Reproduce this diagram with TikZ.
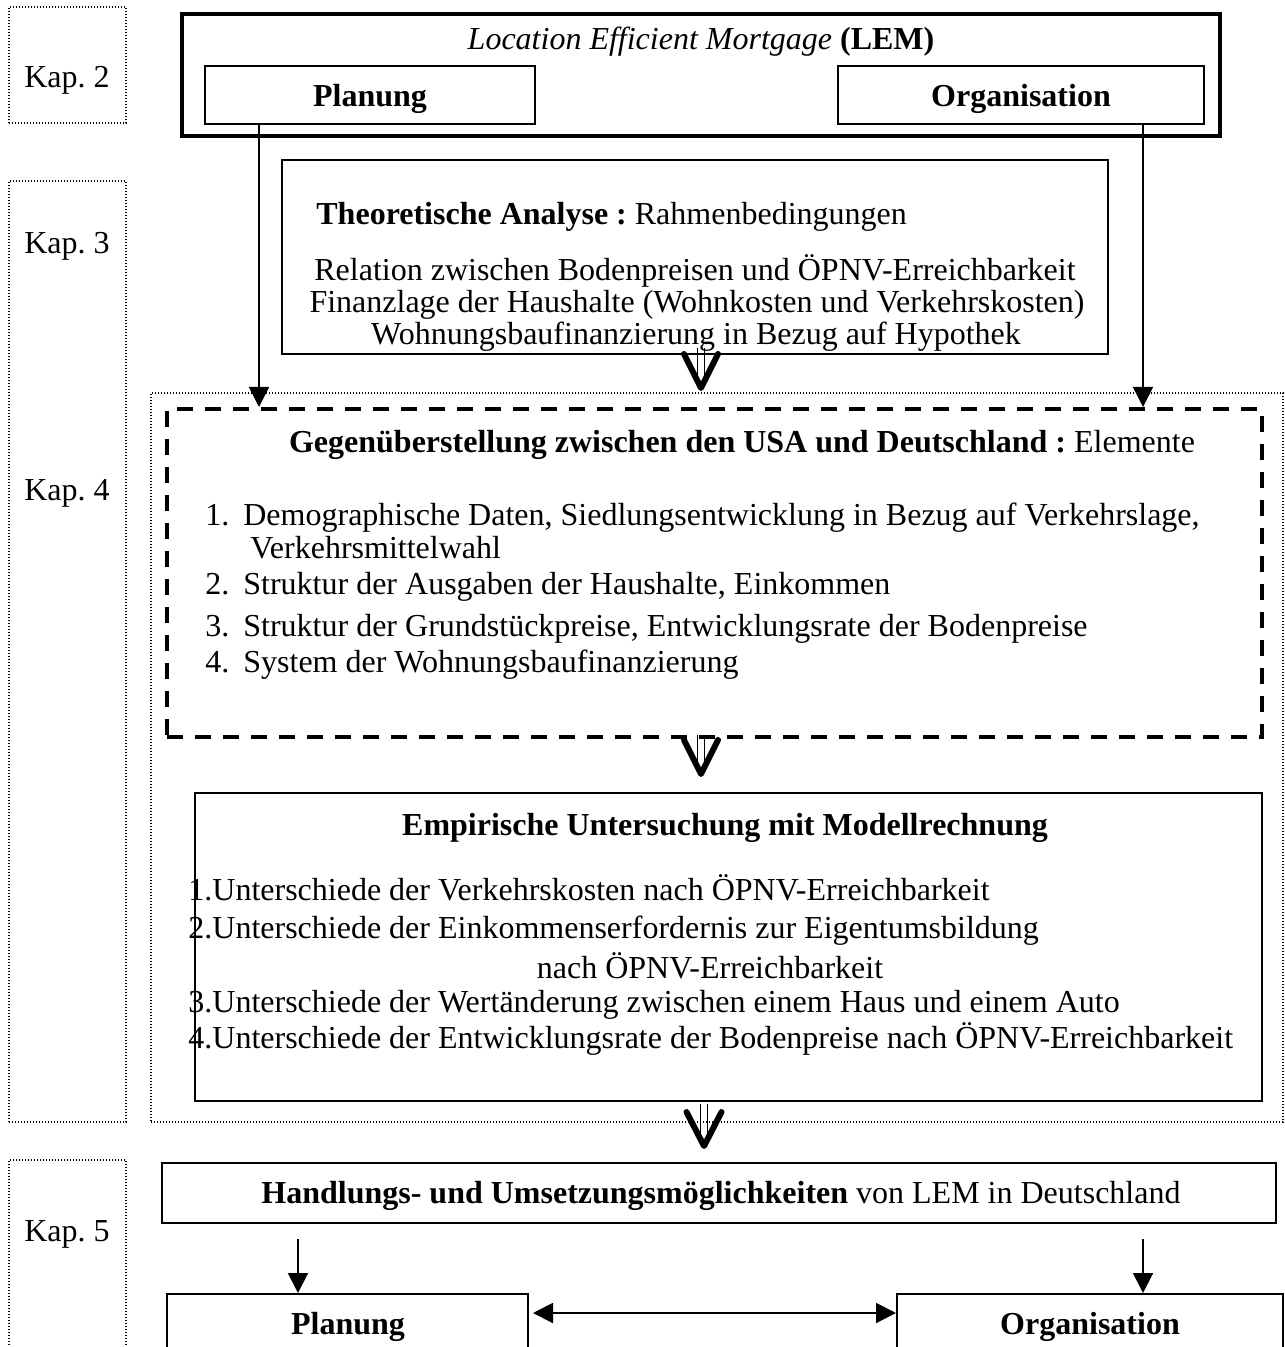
\documentclass[tikz,border=0pt]{standalone}
\usepackage{fontspec}
\setmainfont{Liberation Serif}
\usetikzlibrary{arrows.meta,calc}
\begin{document}
\frenchspacing
\begin{tikzpicture}[x=0.5pt,y=-0.5pt,font=\fontsize{16}{19}\selectfont]
\tikzset{
 box/.style={draw,line width=1pt,inner sep=0pt},
 thickbox/.style={draw,line width=2pt,inner sep=0pt},
 dashbox/.style={draw,line width=2pt,dash pattern=on 8pt off 6pt,inner sep=0pt},
 dotbox/.style={draw,line width=0.6pt,dash pattern=on 0.6pt off 0.9pt,inner sep=0pt},
 txt/.style={inner sep=0pt,anchor=base},
 txtl/.style={inner sep=0pt,anchor=base west},
 arr/.style={line width=0.8pt,-{Triangle[length=10pt,width=10pt]}},
 arrb/.style={line width=1pt,-{Triangle[length=10pt,width=10pt]}},
 dblarr/.style={line width=1pt,{Triangle[length=10pt,width=10pt]}-{Triangle[length=10pt,width=10pt]}},
 vhead/.style={line width=3pt,line cap=round,line join=round},
 stemline/.style={line width=0.6pt},
}
\useasboundingbox (0,0) rectangle (1284,1347);
\clip (0,0) rectangle (1284,1347);
\fill[white] (0,0) rectangle (1284,1347);

% chapter boxes
\node[dotbox,minimum width=58.5pt,minimum height=58pt] (kap2) at (67.5,65) {};
\node[dotbox,minimum width=58.5pt,minimum height=470.5pt] (kap34) at (67.5,651.5) {};
\node[dotbox,minimum width=58.5pt,minimum height=100pt] (kap5) at (67.5,1260) {};
\node[dotbox,minimum width=566pt,minimum height=364.5pt] (kap4box) at (717,757.5) {};
\node[txt] (k2) at (67,88) {Kap. 2};
\node[txt] (k3) at (67,254) {Kap. 3};
\node[txt] (k4) at (67,500) {Kap. 4};
\node[txt] (k5) at (67,1241) {Kap. 5};

% top LEM box
\node[thickbox,minimum width=519pt,minimum height=61pt] (lem) at (701,75) {};
\node[txt] (lemt) at (701,50) {\textit{Location Efficient Mortgage} \textbf{(LEM)}};
\node[box,minimum width=165pt,minimum height=29pt] (plan1) at (370,95) {};
\node[txt] at (370,107) {\textbf{Planung}};
\node[box,minimum width=183pt,minimum height=29pt] (org1) at (1021,95) {};
\node[txt] at (1021,107) {\textbf{Organisation}};

% theoretical analysis
\node[box,minimum width=413pt,minimum height=97pt] (theo) at (695,257) {};
\node[txtl] at (316,225) {\textbf{Theoretische Analyse :} Rahmenbedingungen};
\node[txt] at (695,281) {Relation zwischen Bodenpreisen und ÖPNV-Erreichbarkeit};
\node[txt] at (697,313) {Finanzlage der Haushalte (Wohnkosten und Verkehrskosten)};
\node[txt] at (696,345) {Wohnungsbaufinanzierung in Bezug auf Hypothek};

% comparison box
\node[dashbox,minimum width=547.5pt,minimum height=164pt] (gegen) at (714.5,573) {};
\node[txt] at (742,452) {\textbf{Gegenüberstellung zwischen den USA und Deutschland :} Elemente};
\node[txtl] at (205,525) {\makebox[19pt][l]{1.}Demographische Daten, Siedlungsentwicklung in Bezug auf Verkehrslage,};
\node[txtl] at (250,558) {Verkehrsmittelwahl};
\node[txtl] at (205,594) {\makebox[19pt][l]{2.}Struktur der Ausgaben der Haushalte, Einkommen};
\node[txtl] at (205,636) {\makebox[19pt][l]{3.}Struktur der Grundstückpreise, Entwicklungsrate der Bodenpreise};
\node[txtl] at (205,672) {\makebox[19pt][l]{4.}System der Wohnungsbaufinanzierung};

% empirical box
\node[box,minimum width=533.5pt,minimum height=154pt] (emp) at (728.5,947) {};
\node[txt] at (725,835) {\textbf{Empirische Untersuchung mit Modellrechnung}};
\node[txtl] at (188,900) {1.Unterschiede der Verkehrskosten nach ÖPNV-Erreichbarkeit};
\node[txtl] at (188,938) {2.Unterschiede der Einkommenserfordernis zur Eigentumsbildung};
\node[txt] at (710,978) {nach ÖPNV-Erreichbarkeit};
\node[txtl] at (188,1012) {3.Unterschiede der Wertänderung zwischen einem Haus und einem Auto};
\node[txtl] at (188,1048) {4.Unterschiede der Entwicklungsrate der Bodenpreise nach ÖPNV-Erreichbarkeit};

% action box
\node[box,minimum width=557pt,minimum height=30pt] (hand) at (719,1193) {};
\node[txt] at (721,1203) {\textbf{Handlungs- und Umsetzungsmöglichkeiten} von LEM in Deutschland};

\node[box,minimum width=180.5pt,minimum height=31pt] (plan2) at (347.5,1325) {};
\node[txt] at (348,1334) {\textbf{Planung}};
\node[box,minimum width=193pt,minimum height=31pt] (org2) at (1090,1325) {};
\node[txt] at (1090,1334) {\textbf{Organisation}};

% column coordinates
\coordinate (c1) at (259,0);
\coordinate (c2) at (1143,0);
\coordinate (c3) at (298,0);
\coordinate (c0) at (701,0);
\coordinate (c0b) at (704,0);

% thin connectors from top boxes
\draw[arr] (plan1.south -| c1) -- (gegen.north -| c1);
\draw[arr] (org1.south -| c2) -- (gegen.north -| c2);

% double arrows
\coordinate (tip1) at ($(gegen.north -| c0)+(0,9.5pt)$);
\draw[stemline] ($(theo.south -| c0)+(-1.6pt,3.5pt)$) -- ($(tip1)+(-1.6pt,4pt)$);
\draw[stemline] ($(theo.south -| c0)+(1.6pt,3.5pt)$) -- ($(tip1)+(1.6pt,4pt)$);
\draw[vhead] ($(tip1)+(-8.5pt,17pt)$) -- (tip1) -- ($(tip1)+(8.5pt,17pt)$);

\coordinate (tip2) at ($(emp.north -| c0)+(0,9pt)$);
\draw[stemline] ($(gegen.south -| c0)+(-1.6pt,2pt)$) -- ($(tip2)+(-1.6pt,4pt)$);
\draw[stemline] ($(gegen.south -| c0)+(1.6pt,2pt)$) -- ($(tip2)+(1.6pt,4pt)$);
\draw[vhead] ($(tip2)+(-8.5pt,17pt)$) -- (tip2) -- ($(tip2)+(8.5pt,17pt)$);

\coordinate (tip3) at ($(hand.north -| c0b)+(0,8pt)$);
\draw[stemline] ($(emp.south -| c0b)+(-1.6pt,-1pt)$) -- ($(tip3)+(-1.6pt,4pt)$);
\draw[stemline] ($(emp.south -| c0b)+(1.6pt,-1pt)$) -- ($(tip3)+(1.6pt,4pt)$);
\draw[vhead] ($(tip3)+(-8.75pt,17pt)$) -- (tip3) -- ($(tip3)+(8.75pt,17pt)$);

% bottom arrows
\draw[arrb] ($(hand.south -| c3)+(0,-7.5pt)$) -- (plan2.north -| c3);
\draw[arrb] ($(hand.south -| c2)+(0,-7.5pt)$) -- (org2.north -| c2);
\coordinate (hy) at (0,1313);
\draw[dblarr] ($(plan2.east |- hy)+(2pt,0)$) -- (org2.west |- hy);
\end{tikzpicture}
\end{document}
